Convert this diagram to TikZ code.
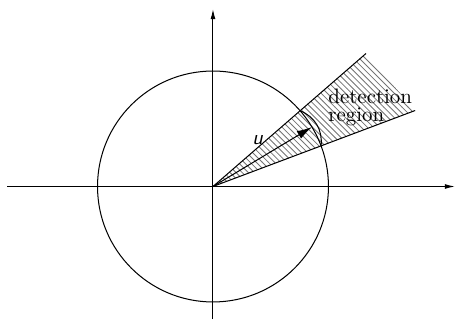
\documentclass[tikz,border=0pt]{standalone}
\usepackage{tikz}
\usetikzlibrary{arrows.meta,patterns}
\tikzset{
  axis/.style ={-{Latex[length=5pt,width=2.4pt]}, line width=0.5pt},
  ring/.style ={line width=0.5pt},
  edge/.style ={line width=0.5pt},
  cone/.style ={pattern=north west lines, pattern color=black!55},
  dirvec/.style={-{Latex[length=7.5pt,width=4.2pt]}, line width=0.5pt},
  lbl/.style  ={font=\fontsize{10.3}{12}\selectfont, inner sep=0pt,
                align=left},
  vlbl/.style ={font=\sffamily\slshape, inner sep=0pt},
}

\begin{document}
\begin{tikzpicture}
  \useasboundingbox (-3.689,-2.312) rectangle (4.209,3.230);
  % axes
  \coordinate (O)  at (0,0);
  \coordinate (xl) at (-3.563,0);
  \coordinate (xr) at (4.191,0);
  \coordinate (yb) at (0,-2.295);
  \coordinate (yt) at (0,3.074);
  % cone ends and rim
  \coordinate (c1) at (41:3.51);
  \coordinate (c2) at (20.6:3.74);
  \coordinate (r1) at (41:2);
  \coordinate (r2) at (20.6:2);
  \coordinate (tip) at (31:2);
  % hatched detection cone
  \fill[cone] (O) -- (c1) -- (c2) -- cycle;
  \draw[edge] (O) -- (c1);
  \draw[edge] (O) -- (c2);
  \draw[edge] (r2) to[bend right=37] (r1);
  % unit circle and axes
  \draw[ring] (O) circle (2);
  \draw[axis] (xl) -- (xr);
  \draw[axis] (yb) -- (yt);
  % direction u
  \draw[dirvec] (O) -- (tip);
  \node[vlbl] (lu) at (0.774,0.805) {u};
  \node[lbl, anchor=north west] (det) at (1.993,1.690)
    {detection\\[-3.2pt]region};
\end{tikzpicture}
\end{document}
